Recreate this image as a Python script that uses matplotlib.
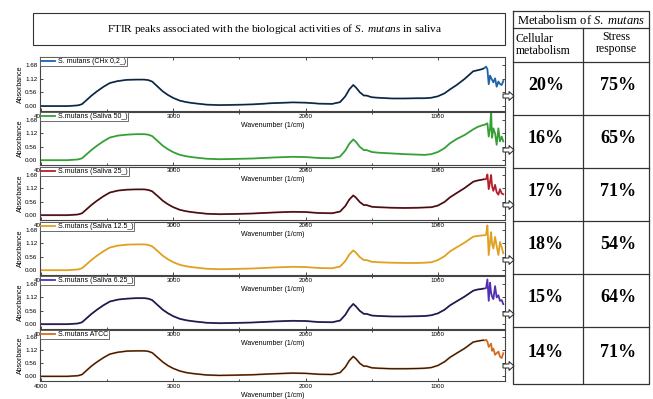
import matplotlib
matplotlib.use("Agg")
import matplotlib.pyplot as plt
from matplotlib.patches import Rectangle, FancyArrow

plt.rcParams['font.family'] = ['Liberation Sans', 'DejaVu Sans']
plt.rcParams['mathtext.fontset'] = 'custom'
plt.rcParams['mathtext.rm'] = 'Liberation Serif'
plt.rcParams['mathtext.it'] = 'Liberation Serif:italic'
plt.rcParams['mathtext.bf'] = 'Liberation Serif:bold'

# wavenumbers (1/cm), shared by all spectra
wavenumber = [4000, 3800, 3720, 3690, 3655, 3620, 3580, 3530, 3480, 3420,
              3350, 3280, 3220, 3190, 3160, 3120, 3080, 3040, 3000, 2950,
              2900, 2850, 2750, 2650, 2550, 2400, 2250, 2100, 2000, 1900,
              1800, 1740, 1700, 1670, 1640, 1620, 1590, 1560, 1540, 1500,
              1450, 1350, 1250, 1150, 1100, 1050, 1000, 950, 909, 858,
              800, 733, 700, 670, 655,
              644, 636, 626, 616, 606, 598, 591, 581, 568, 556, 543, 531, 518, 506]

chx_02 = [0.00, 0.00, 0.03, 0.08, 0.25, 0.42, 0.59, 0.78, 0.94, 1.02,
          1.07, 1.08, 1.08, 1.06, 1.00, 0.80, 0.60, 0.45, 0.33, 0.22,
          0.16, 0.12, 0.06, 0.04, 0.05, 0.07, 0.12, 0.15, 0.14, 0.10,
          0.09, 0.16, 0.40, 0.68, 0.86, 0.76, 0.56, 0.43, 0.43, 0.36,
          0.34, 0.31, 0.31, 0.32, 0.32, 0.34, 0.40, 0.52, 0.68, 0.86,
          1.10, 1.42, 1.46, 1.50, 1.53,
          1.57, 1.61, 1.50, 0.89, 1.24, 1.15, 1.07, 0.97, 1.13, 0.79, 1.00, 0.90, 0.86, 1.02]

saliva_50 = [0.00, 0.00, 0.03, 0.08, 0.25, 0.42, 0.59, 0.78, 0.94, 1.02,
             1.06, 1.08, 1.08, 1.06, 1.00, 0.80, 0.60, 0.45, 0.33, 0.22,
             0.16, 0.12, 0.06, 0.04, 0.05, 0.07, 0.11, 0.14, 0.13, 0.09,
             0.08, 0.15, 0.40, 0.68, 0.86, 0.76, 0.55, 0.42, 0.42, 0.34,
             0.31, 0.28, 0.25, 0.23, 0.22, 0.25, 0.34, 0.50, 0.70, 0.88,
             1.04, 1.28, 1.38, 1.44, 1.46,
             1.48, 1.50, 1.53, 0.98, 1.30, 2.05, 0.93, 1.32, 1.11, 0.64, 1.32, 0.78, 0.98, 0.78]

saliva_25 = [0.00, 0.00, 0.03, 0.08, 0.25, 0.42, 0.59, 0.78, 0.94, 1.02,
             1.06, 1.07, 1.07, 1.05, 0.99, 0.80, 0.60, 0.45, 0.33, 0.22,
             0.16, 0.12, 0.06, 0.04, 0.05, 0.07, 0.11, 0.14, 0.13, 0.09,
             0.08, 0.15, 0.38, 0.65, 0.82, 0.73, 0.54, 0.42, 0.42, 0.35,
             0.33, 0.31, 0.30, 0.31, 0.32, 0.33, 0.40, 0.55, 0.74, 0.92,
             1.12, 1.39, 1.44, 1.47, 1.49,
             1.49, 1.50, 1.69, 1.08, 1.40, 1.67, 1.21, 1.01, 1.26, 0.95, 0.85, 1.08, 0.90, 0.87]

saliva_125 = [0.00, 0.00, 0.03, 0.08, 0.25, 0.42, 0.59, 0.78, 0.94, 1.02,
              1.06, 1.07, 1.07, 1.05, 0.99, 0.80, 0.60, 0.45, 0.33, 0.22,
              0.16, 0.12, 0.06, 0.04, 0.05, 0.07, 0.11, 0.14, 0.13, 0.09,
              0.08, 0.15, 0.38, 0.65, 0.82, 0.73, 0.54, 0.42, 0.42, 0.35,
              0.33, 0.31, 0.30, 0.30, 0.31, 0.33, 0.42, 0.58, 0.78, 0.95,
              1.14, 1.39, 1.42, 1.44, 1.45,
              1.45, 1.47, 1.86, 0.63, 1.20, 1.58, 1.10, 0.90, 1.38, 1.00, 0.63, 1.17, 0.95, 0.70]

saliva_625 = [0.00, 0.00, 0.03, 0.08, 0.25, 0.42, 0.59, 0.78, 0.94, 1.02,
              1.06, 1.08, 1.08, 1.06, 1.00, 0.80, 0.60, 0.45, 0.33, 0.22,
              0.16, 0.12, 0.06, 0.04, 0.05, 0.07, 0.11, 0.14, 0.13, 0.09,
              0.08, 0.15, 0.39, 0.66, 0.84, 0.74, 0.55, 0.43, 0.43, 0.36,
              0.34, 0.32, 0.32, 0.33, 0.34, 0.37, 0.45, 0.60, 0.78, 0.95,
              1.14, 1.39, 1.44, 1.46, 1.48,
              1.48, 1.50, 1.86, 0.97, 1.72, 1.30, 1.15, 1.04, 1.58, 1.11, 1.20, 0.97, 1.00, 0.83]

atcc = [0.00, 0.00, 0.03, 0.08, 0.26, 0.44, 0.61, 0.80, 0.96, 1.04,
        1.09, 1.10, 1.10, 1.08, 1.02, 0.82, 0.62, 0.46, 0.34, 0.23,
        0.16, 0.12, 0.06, 0.04, 0.05, 0.07, 0.11, 0.14, 0.13, 0.09,
        0.08, 0.16, 0.40, 0.68, 0.86, 0.76, 0.56, 0.44, 0.44, 0.37,
        0.35, 0.33, 0.33, 0.34, 0.35, 0.38, 0.47, 0.63, 0.82, 1.00,
        1.20, 1.48, 1.52, 1.55, 1.56,
        1.55, 1.58, 1.50, 1.27, 1.35, 1.41, 1.10, 1.20, 0.93, 1.00, 1.07, 0.85, 0.79, 1.00]

spectra = [chx_02, saliva_50, saliva_25, saliva_125, saliva_625, atcc]
labels = ["S. mutans (CHx 0,2_)", "S.mutans (Saliva 50_)", "S.mutans (Saliva 25_)",
          "S.mutans (Saliva 12.5_)", "S.mutans (Saliva 6.25_)", "S.mutans ATCC"]
colors = ['#1f62a8', '#35a035', '#b3202c', '#e0a020', '#5230b0', '#d86a20']
dark_body = [True, False, True, False, True, True]

cellular = [20, 16, 17, 18, 15, 14]
stress = [75, 65, 71, 54, 64, 71]

y_ticks = [0.00, 0.56, 1.12, 1.68]

W, H = 653, 399
fig = plt.figure(figsize=(W / 100, H / 100), dpi=100)
fig.patch.set_facecolor('white')


def px_axes(x0, y0, x1, y1):
    return fig.add_axes([x0 / W, 1 - y1 / H, (x1 - x0) / W, (y1 - y0) / H])


# pixel extents of the six stacked panels (top, bottom)
panels = [(57, 111), (112, 165), (167, 220), (222, 275), (276, 329), (330, 381)]
nbody = 55

for i, (top, bot) in enumerate(panels):
    ax = px_axes(40, top, 505, bot)
    ax.patch.set_visible(False)
    ax.plot(wavenumber, spectra[i], color=colors[i], lw=1.3, label=labels[i])
    if dark_body[i]:
        ax.plot(wavenumber[:nbody], spectra[i][:nbody], color='#1c1c1c', lw=0.8)
    ax.set_xlim(4008, 493)
    ax.set_ylim(-0.2, 2.0)
    ax.set_yticks(y_ticks)
    ax.set_yticklabels(['%.2f' % v for v in y_ticks])
    ax.set_xticks([4000, 3000, 2000, 1000])
    ax.set_xticks([3500, 2500, 1500], minor=True)
    ax.tick_params(direction='in', length=2, width=0.5, labelsize=4.5,
                   top=True, right=True, pad=2)
    ax.tick_params(which='minor', direction='in', length=1.2, width=0.5,
                   top=True, right=False)
    for s in ax.spines.values():
        s.set_linewidth(0.8)
        s.set_color('#444444')
    ax.set_ylabel('Absorbance', fontsize=5, labelpad=0.5)
    ax.set_xlabel('Wavenumber (1/cm)', fontsize=5, labelpad=2)
    leg = ax.legend(loc='upper left', bbox_to_anchor=(0, 1), borderaxespad=0,
                    fontsize=5, fancybox=False, framealpha=1, edgecolor='#555555',
                    handlelength=2.0, handletextpad=0.4, borderpad=0.15)
    leg.get_frame().set_linewidth(0.6)

# overlay in pixel coordinates for the title box, table and arrows
ov = fig.add_axes([0, 0, 1, 1])
ov.set_xlim(0, W)
ov.set_ylim(H, 0)
ov.axis('off')
ov.patch.set_visible(False)

serif = 'Liberation Serif'
ov.add_patch(Rectangle((33, 13), 472, 32, fill=False, lw=0.8, ec='#333333'))
ov.text(275, 29, r'FTIR peaks associated with the biological activities of $\mathit{S.\ mutans}$ in saliva',
        fontsize=8.1, family=serif, ha='center', va='center')

# table
lc = '#333333'
tx0, tx1, tmid = 513, 649, 583
rows = [62, 115, 168, 221, 274, 327, 384]
ov.plot([tx0, tx1, tx1, tx0, tx0], [11, 11, 384, 384, 11], color=lc, lw=0.9)
ov.plot([tx0, tx1], [28, 28], color=lc, lw=0.9)
for r in rows[:-1]:
    ov.plot([tx0, tx1], [r, r], color=lc, lw=0.9)
ov.plot([tmid, tmid], [28, 384], color=lc, lw=0.9)

ov.text(581, 20, r'Metabolism of $\mathit{S.\ mutans}$', fontsize=9,
        family=serif, ha='center', va='center')
ov.text(516, 45, 'Cellular\nmetabolism', fontsize=8.5, family=serif,
        ha='left', va='center', linespacing=1.05)
ov.text(616, 43, 'Stress\nresponse', fontsize=8.5, family=serif,
        ha='center', va='center', linespacing=1.05)

for k in range(6):
    yc = (rows[k] + rows[k + 1]) / 2 - 3
    ov.text(546, yc, '%d%%' % cellular[k], fontsize=13, fontweight='bold',
            family=serif, ha='center', va='center')
    ov.text(618, yc, '%d%%' % stress[k], fontsize=13, fontweight='bold',
            family=serif, ha='center', va='center')

# arrows from each spectrum to its table row
for top, bot in panels:
    ov.add_patch(FancyArrow(503, bot - 15, 11, 0, width=4, head_width=9,
                            head_length=5, length_includes_head=True,
                            fc='white', ec='#222222', lw=0.7))

fig.savefig('out.png', dpi=100)
